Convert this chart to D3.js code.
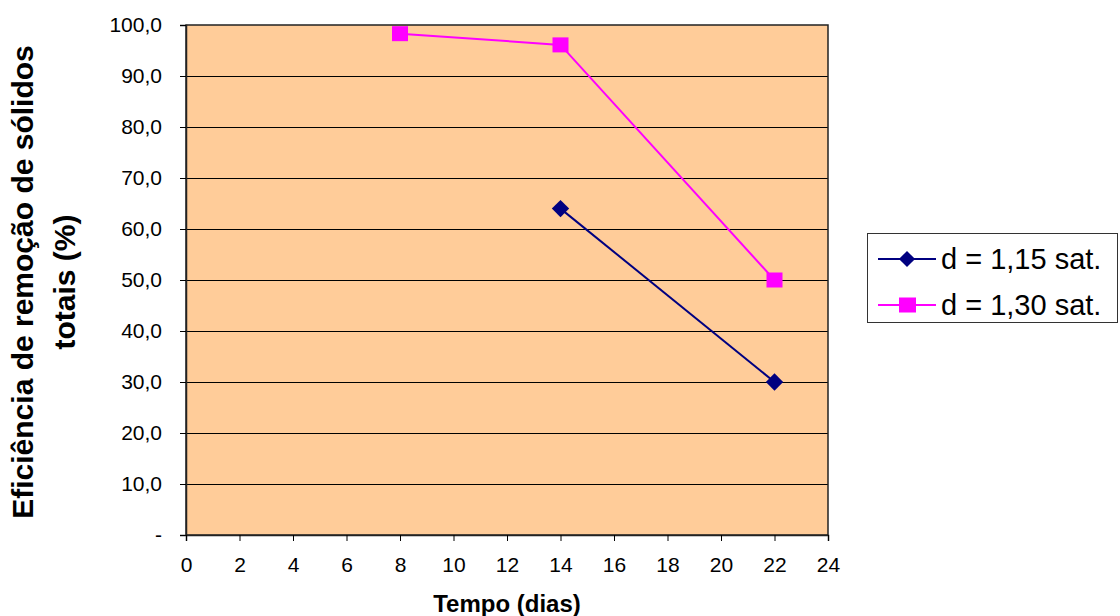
<!DOCTYPE html>
<html>
<head>
<meta charset="utf-8">
<script src="https://cdn.jsdelivr.net/npm/d3@7"></script>
<style>
  body { margin: 0; background: #fff; }
  svg { display: block; font-family: "Liberation Sans", Arial, sans-serif; }
</style>
</head>
<body>
<svg id="chart" width="1120" height="616"></svg>
<script>
// Removal efficiency of total solids over time, for two density levels
const xTicks = [0, 2, 4, 6, 8, 10, 12, 14, 16, 18, 20, 22, 24];
const yTicks = [0, 10, 20, 30, 40, 50, 60, 70, 80, 90, 100];
const yTickLabels = ["-", "10,0", "20,0", "30,0", "40,0", "50,0", "60,0", "70,0", "80,0", "90,0", "100,0"];

const seriesNames = ["d = 1,15 sat.", "d = 1,30 sat."];
const days115 = [14, 22];
const eff115 = [64.0, 30.0];
const days130 = [8, 14, 22];
const eff130 = [98.3, 96.1, 50.0];

const FONT = "'Liberation Sans', Arial, sans-serif";
const svg = d3.select("#chart");
const plot = { left: 186, top: 25, right: 828, bottom: 535 };

const x = d3.scaleLinear().domain([0, 24]).range([plot.left, plot.right]);
const y = d3.scaleLinear().domain([0, 100]).range([plot.bottom, plot.top]);

// plot background
svg.append("rect")
  .attr("x", plot.left).attr("y", plot.top)
  .attr("width", plot.right - plot.left).attr("height", plot.bottom - plot.top)
  .attr("fill", "#FFCC99");

// horizontal gridlines
svg.append("g").selectAll("line")
  .data(yTicks.filter(t => t > 0 && t < 100))
  .join("line")
  .attr("x1", plot.left).attr("x2", plot.right)
  .attr("y1", d => Math.round(y(d)) + 0.5).attr("y2", d => Math.round(y(d)) + 0.5)
  .attr("stroke", "#000").attr("stroke-width", 1);

// plot frame
svg.append("rect")
  .attr("x", plot.left).attr("y", plot.top)
  .attr("width", plot.right - plot.left).attr("height", plot.bottom - plot.top)
  .attr("fill", "none").attr("stroke", "#222").attr("stroke-width", 1.5);

// axes
const yAxis = d3.axisLeft(y).tickValues(yTicks)
  .tickFormat((d, i) => yTickLabels[i]).tickSize(6).tickPadding(18);
const gy = svg.append("g").attr("transform", `translate(${plot.left},0)`).call(yAxis);
gy.select(".domain").attr("stroke", "#222").attr("stroke-width", 1.5);
gy.selectAll(".tick line").attr("stroke", "#000");
gy.selectAll("text").attr("font-size", 21).attr("fill", "#000").attr("font-family", FONT);

const xAxis = d3.axisBottom(x).tickValues(xTicks).tickSize(6).tickPadding(16);
const gx = svg.append("g").attr("transform", `translate(0,${plot.bottom})`).call(xAxis);
gx.select(".domain").attr("stroke", "#222").attr("stroke-width", 1.5);
gx.selectAll(".tick line").attr("stroke", "#000");
gx.selectAll("text").attr("font-size", 21).attr("fill", "#000").attr("font-family", FONT);

// axis titles
svg.append("text")
  .attr("x", 507).attr("y", 612)
  .attr("text-anchor", "middle").attr("font-weight", "bold").attr("font-size", 24)
  .text("Tempo (dias)");

const yTitle = svg.append("text")
  .attr("transform", `translate(0,282) rotate(-90)`)
  .attr("text-anchor", "middle").attr("font-weight", "bold").attr("font-size", 30);
yTitle.append("tspan").attr("x", 0).attr("y", 33).text("Eficiência de remoção de sólidos");
yTitle.append("tspan").attr("x", 0).attr("y", 75).text("totais (%)");

// series
const line = d3.line().x(d => x(d[0])).y(d => y(d[1]));
const data115 = days115.map((d, i) => [d, eff115[i]]);
const data130 = days130.map((d, i) => [d, eff130[i]]);

const diamond = d3.symbol().type(d3.symbolSquare).size(150);

svg.append("path").datum(data115).attr("d", line)
  .attr("fill", "none").attr("stroke", "#000080").attr("stroke-width", 2);
svg.append("g").selectAll("path").data(data115).join("path")
  .attr("d", diamond)
  .attr("transform", d => `translate(${x(d[0])},${y(d[1])}) rotate(45)`)
  .attr("fill", "#000080");

svg.append("path").datum(data130).attr("d", line)
  .attr("fill", "none").attr("stroke", "#FF00FF").attr("stroke-width", 2);
svg.append("g").selectAll("rect").data(data130).join("rect")
  .attr("x", d => x(d[0]) - 8).attr("y", d => y(d[1]) - 7.5)
  .attr("width", 16).attr("height", 15)
  .attr("fill", "#FF00FF");

// legend
const lg = svg.append("g");
lg.append("rect").attr("x", 867.5).attr("y", 233.5).attr("width", 250).attr("height", 89)
  .attr("fill", "#fff").attr("stroke", "#333").attr("stroke-width", 1);

const legendRows = [
  { name: seriesNames[0], color: "#000080", shape: "diamond", cy: 259 },
  { name: seriesNames[1], color: "#FF00FF", shape: "square", cy: 305 }
];
legendRows.forEach(r => {
  lg.append("line").attr("x1", 878).attr("x2", 936).attr("y1", r.cy).attr("y2", r.cy)
    .attr("stroke", r.color).attr("stroke-width", 2);
  if (r.shape === "diamond") {
    lg.append("path").attr("d", d3.symbol().type(d3.symbolSquare).size(130))
      .attr("transform", `translate(907,${r.cy}) rotate(45)`).attr("fill", r.color);
  } else {
    lg.append("rect").attr("x", 899).attr("y", r.cy - 7.5).attr("width", 17).attr("height", 15)
      .attr("fill", r.color);
  }
  lg.append("text")
    .attr("x", 941).attr("y", r.cy + 10)
    .attr("font-size", 29).attr("fill", "#000").text(r.name);
});
</script>
</body>
</html>
